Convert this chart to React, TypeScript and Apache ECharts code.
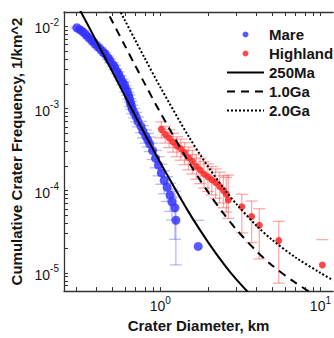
import React, { useEffect, useRef } from "react";
import * as echarts from "echarts";

// ---- axis ticks ----
const xTickValues = [0.3, 0.4, 0.5, 0.6, 0.7, 0.8, 0.9, 1, 2, 3, 4, 5, 6, 7, 8, 9, 10];
const xLabelValues = [1, 10];
const yTickValues = [
  7e-6, 8e-6, 9e-6, 1e-5, 2e-5, 3e-5, 4e-5, 5e-5, 6e-5, 7e-5, 8e-5, 9e-5,
  1e-4, 2e-4, 3e-4, 4e-4, 5e-4, 6e-4, 7e-4, 8e-4, 9e-4,
  1e-3, 2e-3, 3e-3, 4e-3, 5e-3, 6e-3, 7e-3, 8e-3, 9e-3, 1e-2,
];
const yLabelValues = [1e-5, 1e-4, 1e-3, 1e-2];

// ---- Mare ----
const mareD = [0.301, 0.314, 0.328, 0.3415, 0.356, 0.3713, 0.387, 0.4037, 0.421, 0.4389, 0.451, 0.4708, 0.484, 0.5047, 0.519, 0.5337, 0.549, 0.5643, 0.58, 0.5967, 0.605, 0.6222, 0.631, 0.6403, 0.649, 0.6578, 0.667, 0.6863, 0.706, 0.7254, 0.757, 0.778, 0.811, 0.834, 0.858, 0.894, 0.933, 0.973, 1.014, 1.057, 1.102, 1.15, 1.182, 1.233, 1.25, 1.723];
const mareN = [0.00964, 0.00913, 0.00865, 0.00797, 0.00735, 0.00678, 0.00625, 0.00576, 0.00531, 0.00489, 0.00463, 0.00416, 0.00383, 0.00344, 0.00317, 0.00284, 0.00262, 0.00235, 0.00211, 0.00195, 0.00175, 0.00161, 0.00144, 0.00133, 0.00119, 0.0011, 0.000988, 0.000886, 0.000795, 0.000694, 0.000606, 0.000529, 0.000462, 0.000415, 0.000372, 0.000308, 0.000248, 0.000205, 0.000165, 0.000133, 0.00011, 8.84e-5, 7.31e-5, 6.21e-5, 4.37e-5, 2.1e-5];
const mareLo = [0.00935, 0.00885, 0.00836, 0.0077, 0.0071, 0.00654, 0.006, 0.00552, 0.0051, 0.00468, 0.00443, 0.00396, 0.00363, 0.00326, 0.00298, 0.00266, 0.00244, 0.00218, 0.00194, 0.00179, 0.0016, 0.00146, 0.0013, 0.0012, 0.00106, 0.00098, 0.00087, 0.00077, 0.00069, 0.0006, 0.00051, 0.00044, 0.00038, 0.00034, 0.0003, 0.00024, 0.00019, 0.000152, 0.00012, 0.000092, 0.000074, 0.000056, 0.000044, 0.0000256, 0.0000125, 0];
const mareHi = [0.00993, 0.00941, 0.00894, 0.00825, 0.0076, 0.00702, 0.0065, 0.006, 0.00553, 0.0051, 0.00483, 0.00436, 0.00403, 0.00362, 0.00336, 0.00302, 0.0028, 0.00252, 0.00228, 0.00211, 0.0019, 0.00176, 0.00158, 0.00147, 0.00132, 0.00123, 0.0011, 0.001, 0.0009, 0.00079, 0.0007, 0.00062, 0.00055, 0.0005, 0.00045, 0.00038, 0.00031, 0.00026, 0.00021, 0.000175, 0.000148, 0.000124, 0.000105, 0.000099, 0.000084, 0.0000437];

// ---- Highland ----
const highD = [1.014, 1.072, 1.134, 1.199, 1.268, 1.341, 1.417, 1.499, 1.585, 1.676, 1.772, 1.874, 1.982, 2.095, 2.215, 2.343, 2.477, 2.583, 2.656, 3.228, 3.715, 4.15, 5.49, 10.28];
const highN = [5.59e-4, 4.88e-4, 4.38e-4, 3.93e-4, 3.52e-4, 3.25e-4, 2.91e-4, 2.54e-4, 2.28e-4, 1.99e-4, 1.79e-4, 1.6e-4, 1.48e-4, 1.36e-4, 1.26e-4, 1.13e-4, 1.01e-4, 9.08e-5, 7.73e-5, 6.38e-5, 4.86e-5, 3.81e-5, 2.47e-5, 1.25e-5];
const highLo = [4.4e-4, 3.8e-4, 3.35e-4, 2.95e-4, 2.6e-4, 2.35e-4, 2.08e-4, 1.8e-4, 1.6e-4, 1.38e-4, 1.22e-4, 1.08e-4, 9.8e-5, 8.9e-5, 8.1e-5, 7.1e-5, 6.2e-5, 5.5e-5, 4.6e-5, 3.07e-5, 2.34e-5, 1.48e-5, 7.5e-6, 0];
const highHi = [6.9e-4, 6.1e-4, 5.55e-4, 5.0e-4, 4.55e-4, 4.25e-4, 3.85e-4, 3.4e-4, 3.1e-4, 2.75e-4, 2.5e-4, 2.26e-4, 2.12e-4, 1.97e-4, 1.84e-4, 1.68e-4, 1.52e-4, 1.45e-4, 1.55e-4, 9.08e-5, 7.5e-5, 6.04e-5, 4.25e-5, 2.54e-5];

// ---- model curves ----
const d250 = [0.3, 0.4, 0.5, 0.6, 0.7, 0.8, 1, 1.5, 2, 2.5, 3, 4];
const n250 = [0.0188, 0.00654, 0.00284, 0.00143, 0.000805, 0.000491, 0.000219, 5.53e-5, 2.32e-5, 1.27e-5, 8.2e-6, 4.5e-6];
const d1Ga = [0.4, 0.5, 0.6, 0.7, 0.8, 1, 1.5, 2, 2.5, 3, 4, 5, 7, 10];
const n1Ga = [0.0266, 0.0116, 0.00584, 0.00328, 0.002, 0.000891, 0.000225, 9.45e-5, 5.18e-5, 3.33e-5, 1.83e-5, 1.23e-5, 7.55e-6, 4.9e-6];
const d2Ga = [0.4, 0.5, 0.6, 0.7, 0.8, 1, 1.5, 2, 2.5, 3, 4, 5, 7, 10, 12];
const n2Ga = [0.0544, 0.0236, 0.0119, 0.0067, 0.00408, 0.00182, 0.00046, 0.000193, 0.000106, 6.81e-5, 3.73e-5, 2.52e-5, 1.54e-5, 1.0e-5, 8.1e-6];

const FONT = "'Liberation Sans', Arial, Helvetica, sans-serif";
const INK = "#151515";

const powLabel = (v: number) => {
  const e = Math.round(Math.log10(v));
  return `{b|10}{s|${e}}`;
};
const richLabel = {
  b: { fontSize: 14, fontFamily: FONT, color: INK, lineHeight: 18, verticalAlign: "bottom" },
  s: { fontSize: 10, fontFamily: FONT, color: INK, lineHeight: 10, verticalAlign: "top" },
};

function errorSeries(name: string, d: number[], lo: number[], hi: number[], color: string, half: number) {
  return {
    type: "custom",
    name,
    clip: true,
    silent: true,
    z: 1,
    data: d.map((x, i) => [x, lo[i], hi[i]]),
    renderItem: (_p: any, api: any) => {
      const x = api.value(0);
      const l = api.value(1);
      const h = api.value(2);
      const ph = api.coord([x, h]);
      const st = { stroke: color, lineWidth: 1.3 };
      const children: any[] = [
        { type: "line", shape: { x1: ph[0] - half, y1: ph[1], x2: ph[0] + half, y2: ph[1] }, style: st },
      ];
      if (l > 0) {
        const pl = api.coord([x, l]);
        children.push({ type: "line", shape: { x1: pl[0], y1: pl[1], x2: ph[0], y2: ph[1] }, style: st });
        children.push({ type: "line", shape: { x1: pl[0] - half, y1: pl[1], x2: pl[0] + half, y2: pl[1] }, style: st });
      }
      return { type: "group", children };
    },
  };
}

export default function App() {
  const ref = useRef<HTMLDivElement>(null);
  useEffect(() => {
    if (!ref.current) return;
    const chart = echarts.init(ref.current, undefined, { renderer: "svg" });
    const axisLine = { show: true, onZero: false, lineStyle: { color: "#333", width: 1.3 } };
    const hiddenDot = { color: "rgba(0,0,0,0)" };
    chart.setOption({
      animation: false,
      backgroundColor: "#ffffff",
      grid: { left: 64, top: 12, bottom: 38, right: -7, containLabel: false },
      legend: {
        data: ["Mare", "Highland", "250Ma", "1.0Ga", "2.0Ga"],
        orient: "vertical",
        left: 221,
        top: 22,
        itemWidth: 37,
        itemHeight: 6,
        itemGap: 4,
        selectedMode: false,
        textStyle: { fontFamily: FONT, fontWeight: "bold", fontSize: 15, color: INK },
      },
      xAxis: [
        {
          type: "log",
          logBase: 10,
          min: 0.25,
          max: 12,
          position: "bottom",
          axisLine,
          axisTick: { show: true, inside: true, length: 4, customValues: xTickValues, lineStyle: { color: "#333" } },
          axisLabel: { customValues: xLabelValues, formatter: powLabel, rich: richLabel, margin: 4 },
          splitLine: { show: false },
          name: "Crater Diameter, km",
          nameLocation: "middle",
          nameGap: 25,
          nameTextStyle: { fontFamily: FONT, fontWeight: "bold", fontSize: 15, color: INK },
        },
        {
          type: "log",
          logBase: 10,
          min: 0.25,
          max: 12,
          position: "top",
          axisLine,
          axisTick: { show: true, inside: true, length: 4, customValues: xTickValues, lineStyle: { color: "#333" } },
          axisLabel: { show: false },
          splitLine: { show: false },
        },
      ],
      yAxis: [
        {
          type: "log",
          logBase: 10,
          min: 6e-6,
          max: 0.015,
          position: "left",
          axisLine,
          axisTick: { show: true, inside: true, length: 4, customValues: yTickValues, lineStyle: { color: "#333" } },
          axisLabel: { customValues: yLabelValues, formatter: powLabel, rich: richLabel, margin: 5 },
          splitLine: { show: false },
          name: "Cumulative Crater Frequency, 1/km^2",
          nameLocation: "middle",
          nameGap: 31,
          nameRotate: 90,
          nameTextStyle: { fontFamily: FONT, fontWeight: "bold", fontSize: 15, color: INK },
        },
      ],
      series: [
        errorSeries("mareErr", mareD, mareLo, mareHi, "rgba(70,70,255,0.38)", 6),
        errorSeries("highErr", highD, highLo, highHi, "rgba(255,50,50,0.42)", 6),
        {
          type: "scatter",
          name: "Mare",
          data: mareD.map((x, i) => [x, mareN[i]]),
          symbol: "circle",
          symbolSize: 9,
          itemStyle: { color: "#2f2fff" },
          z: 2,
        },
        {
          type: "scatter",
          name: "Highland",
          data: highD.map((x, i) => [x, highN[i]]),
          symbol: "circle",
          symbolSize: 7,
          itemStyle: { color: "#ff1c1c" },
          z: 2,
        },
        {
          type: "line",
          name: "250Ma",
          data: d250.map((x, i) => [x, n250[i]]),
          showSymbol: false,
          symbol: "none",
          smooth: 0.3,
          clip: true,
          lineStyle: { color: "#000", width: 2, type: "solid" },
          itemStyle: hiddenDot,
          z: 3,
        },
        {
          type: "line",
          name: "1.0Ga",
          data: d1Ga.map((x, i) => [x, n1Ga[i]]),
          showSymbol: false,
          symbol: "none",
          smooth: 0.3,
          clip: true,
          lineStyle: { color: "#000", width: 2, type: [8, 6] },
          itemStyle: hiddenDot,
          z: 3,
        },
        {
          type: "line",
          name: "2.0Ga",
          data: d2Ga.map((x, i) => [x, n2Ga[i]]),
          showSymbol: false,
          symbol: "none",
          smooth: 0.3,
          clip: true,
          lineStyle: { color: "#000", width: 2, type: [2, 2] },
          itemStyle: hiddenDot,
          z: 3,
        },
      ],
    });
    return () => chart.dispose();
  }, []);
  return (
    <div style={{ position: "fixed", left: 0, top: 0, width: 334, height: 338, background: "#fff" }}>
      <div ref={ref} style={{ width: 334, height: 338 }} />
    </div>
  );
}
